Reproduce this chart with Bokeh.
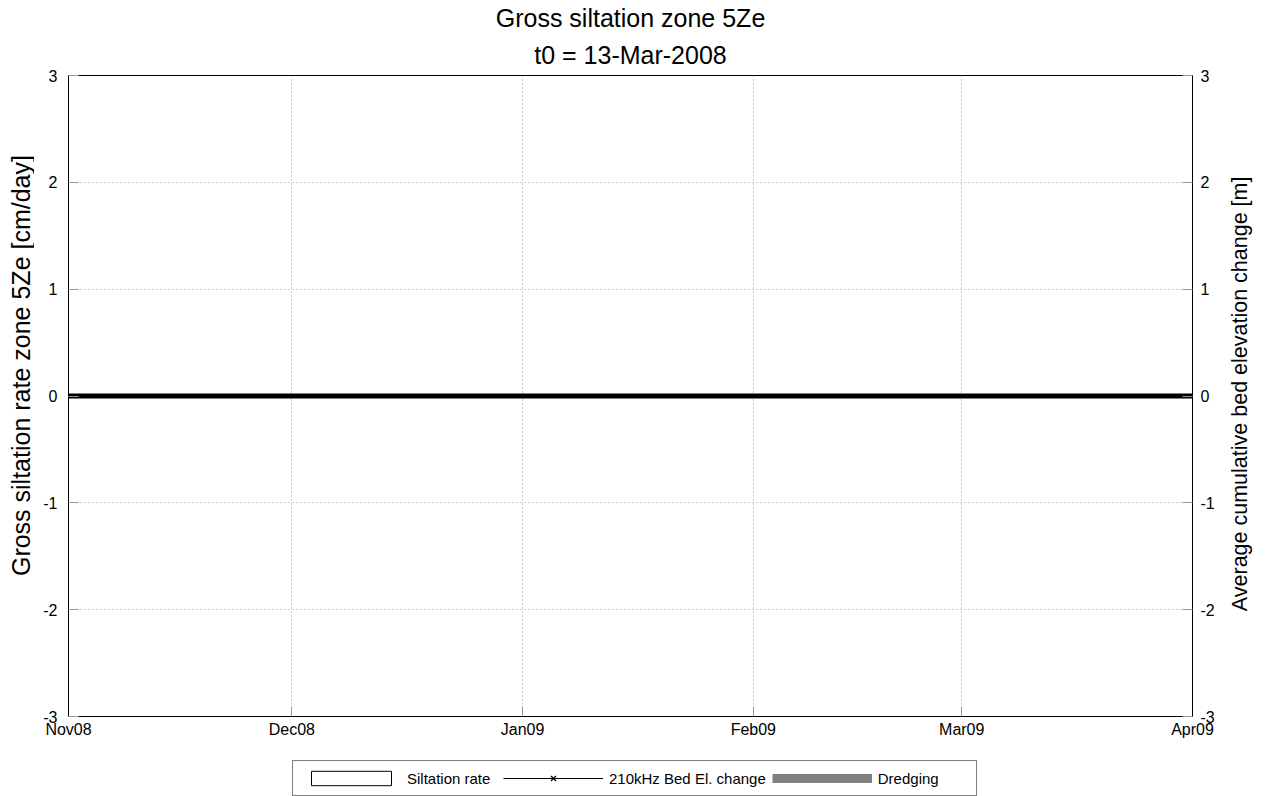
import math
import pandas as pd
from bokeh.plotting import figure
from bokeh.layouts import gridplot
from bokeh.models import (Range1d, LinearAxis, FixedTicker,
                          DatetimeTickFormatter, Legend, LegendItem, Title)
from bokeh.core.properties import value
from bokeh.embed import file_html
from bokeh.resources import INLINE

# ---------------- data ----------------
title_lines = ["Gross siltation zone 5Ze", "t0 = 13-Mar-2008"]
left_label = "Gross siltation rate zone 5Ze [cm/day]"
right_label = "Average cumulative bed elevation change [m]"

month_ticks = ["2008-11-01", "2008-12-01", "2009-01-01", "2009-02-01", "2009-03-01", "2009-04-01"]
month_labels = ["Nov08", "Dec08", "Jan09", "Feb09", "Mar09", "Apr09"]
y_ticks = [-3, -2, -1, 0, 1, 2, 3]
y_tick_labels = ["-3", "-2", "-1", "0", "1", "2", "3"]
y_min, y_max = -3, 3

zero_line_dates = ["2008-11-01", "2009-04-01"]
zero_line_values = [0, 0]

# the three series have no samples inside this window
siltation_start = []
siltation_end = []
siltation_rate = []
bed_dates = []
bed_change = []
dredging_dates = []
dredging_values = []

legend_labels = ["Siltation rate", "210kHz Bed El. change", "Dredging"]


def ms(dates):
    return [pd.Timestamp(d).value // 10**6 for d in dates]


tick_ms = ms(month_ticks)
FONT = "Liberation Sans"
H_MAIN = 744
H_LEG = 52

# ---------------- main figure ----------------
p = figure(width=1188, height=H_MAIN, title=None,
           x_axis_type="datetime",
           x_range=Range1d(tick_ms[0], tick_ms[-1]),
           y_range=Range1d(y_min, y_max),
           output_backend="svg", toolbar_location=None,
           min_border_left=34, min_border_right=30,
           min_border_top=75, min_border_bottom=28)
p.background_fill_color = "white"
p.border_fill_color = "white"
p.outline_line_color = "black"
p.outline_line_width = 1

xticker = FixedTicker(ticks=tick_ms)
yticker = FixedTicker(ticks=y_ticks)
fmt = DatetimeTickFormatter(milliseconds="%b%y", seconds="%b%y", minsec="%b%y",
                            minutes="%b%y", hourmin="%b%y", hours="%b%y",
                            days="%b%y", months="%b%y", years="%b%y")


def style_axis(ax):
    ax.major_tick_in = 10
    ax.major_tick_out = 0
    ax.minor_tick_in = 0
    ax.minor_tick_out = 0
    ax.major_tick_line_color = "#999999"
    ax.axis_line_color = "black"
    ax.major_label_text_font = FONT
    ax.major_label_text_font_size = "16px"
    ax.major_label_text_color = "black"


xa = p.xaxis[0]
xa.ticker = xticker
xa.formatter = fmt
xa.major_label_overrides = {t: l for t, l in zip(tick_ms, month_labels)}
style_axis(xa)
xa.major_label_standoff = 4

ya = p.yaxis[0]
ya.ticker = yticker
ya.major_label_overrides = {t: l for t, l in zip(y_ticks, y_tick_labels)}
style_axis(ya)
ya.major_label_standoff = 11

ra = LinearAxis(ticker=yticker)
ra.major_label_overrides = {t: l for t, l in zip(y_ticks, y_tick_labels)}
style_axis(ra)
ra.major_label_standoff = 8
p.add_layout(ra, "right")

p.xgrid.ticker = xticker
p.ygrid.ticker = yticker
for g in (p.xgrid[0], p.ygrid[0]):
    g.grid_line_color = "#8c8c8c"
    g.grid_line_dash = "1 3"
    g.grid_line_width = 1

# titles (first added is closest to the plot)
for line, so in zip(reversed(title_lines), (14, 0)):
    p.add_layout(Title(text=line, align="center", text_font=FONT,
                       text_font_size="25px", text_font_style="normal",
                       text_line_height=1.0,
                       text_color="black", standoff=so), "above")

p.line(x=ms(zero_line_dates), y=zero_line_values, line_color="black", line_width=5)

SILT_STYLE = dict(fill_color="white", line_color="black", line_width=1)
BED_LINE_STYLE = dict(line_color="black", line_width=1)
BED_MARK_STYLE = dict(marker="x", size=12, line_color="black", line_width=1.2)
DREDGE_STYLE = dict(line_color="#808080", line_width=9, line_cap="butt")

# series in the main plot
p.quad(left=ms(siltation_start), right=ms(siltation_end), top=siltation_rate,
       bottom=[0] * len(siltation_rate), **SILT_STYLE)
p.line(x=ms(bed_dates), y=bed_change, **BED_LINE_STYLE)
p.scatter(x=ms(bed_dates), y=bed_change, **BED_MARK_STYLE)
p.line(x=ms(dredging_dates), y=dredging_values, **DREDGE_STYLE)


def blank_fig(width, height, y_range=None):
    f = figure(width=width, height=height, x_range=Range1d(0, width),
               y_range=y_range if y_range is not None else Range1d(0, height),
               output_backend="svg", toolbar_location=None,
               x_axis_location=None, y_axis_location=None, min_border=0)
    f.outline_line_color = None
    f.background_fill_color = "white"
    f.border_fill_color = "white"
    f.grid.visible = False
    return f


# legend strip below the main plot; its key glyphs are style proxies (NaN = not drawn)
nan = [float("nan")]
leg_fig = blank_fig(1188, H_LEG)
k_silt = leg_fig.quad(left=nan, right=nan, top=nan, bottom=nan, **SILT_STYLE)
k_bed_line = leg_fig.line(x=nan, y=nan, **BED_LINE_STYLE)
k_bed_mark = leg_fig.scatter(x=nan, y=nan, **BED_MARK_STYLE)
k_dredge = leg_fig.line(x=nan, y=nan, **DREDGE_STYLE)
legend = Legend(items=[LegendItem(label=legend_labels[0], renderers=[k_silt]),
                       LegendItem(label=legend_labels[1], renderers=[k_bed_line, k_bed_mark]),
                       LegendItem(label=legend_labels[2], renderers=[k_dredge])],
                orientation="horizontal", location=(224, 0), margin=0,
                border_line_color="black", border_line_width=1,
                background_fill_color="white", background_fill_alpha=1,
                padding=8, spacing=6, label_standoff=6, label_width=90,
                glyph_width=100, glyph_height=18,
                label_text_font=FONT, label_text_font_size="15px",
                label_text_color="black", label_text_baseline="middle")
leg_fig.add_layout(legend, "center")


# side strips carrying the rotated axis titles (frames aligned with the main plot)
def label_strip(width, text, x, y, size):
    f = blank_fig(width, H_MAIN, y_range=p.y_range)
    f.text(x=[x], y=[y], text=[text], angle=math.pi / 2, text_align="center",
           text_baseline="middle", text_font=value(FONT), text_font_size=value(size),
           text_color="black")
    return f


left_strip = label_strip(34, left_label, 20, 0.285, "25px")
right_strip = label_strip(44, right_label, 17, 0.02, "21.5px")

layout = gridplot([[left_strip, p, right_strip], [None, leg_fig, None]],
                  toolbar_location=None)
open("out.html", "w").write(file_html(layout, INLINE))
